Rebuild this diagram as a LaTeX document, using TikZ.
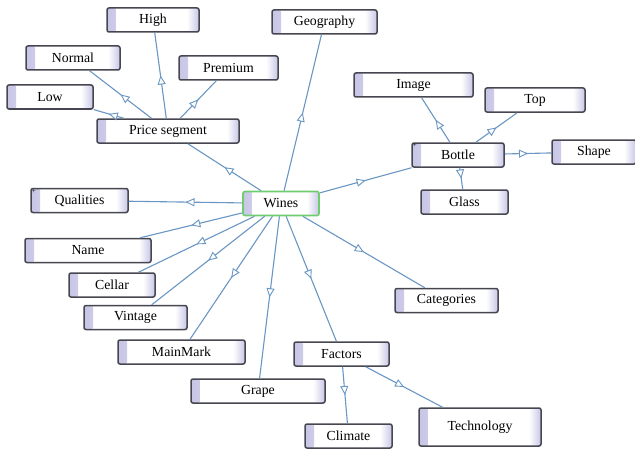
\documentclass[tikz,border=0pt]{standalone}
\usepackage{fontspec}
\setmainfont{Liberation Serif}
\usetikzlibrary{arrows.meta,decorations.markings}
\definecolor{lav}{RGB}{200,198,230}
\definecolor{edgeblue}{RGB}{105,150,195}
\definecolor{bordergray}{RGB}{70,70,80}
\definecolor{wgreen}{RGB}{110,205,110}
\tikzset{
  basebox/.style={line width=1.5pt, rounded corners=2pt, fill=white, minimum height=24pt, inner sep=0pt,
    font=\fontsize{13.8}{16}\selectfont,
    path picture={
      \fill[left color=lav,right color=white] (path picture bounding box.south west) rectangle ([xshift=9pt]path picture bounding box.north west);
      \fill[left color=white,right color=lav] ([xshift=-12pt]path picture bounding box.south east) rectangle (path picture bounding box.north east);}},
  box/.style={basebox, draw=bordergray},
  wbox/.style={basebox, draw=wgreen, line width=1.6pt},
  plus/.style={label={[font=\fontsize{7}{7}\selectfont, anchor=north west, inner sep=1.5pt]north west:+}},
  link/.style={draw=edgeblue, line width=1.1pt, postaction={decorate},
    decoration={markings, mark=at position 0.5 with {\arrow[edgeblue, line width=0.9pt]{Triangle[length=9pt,width=8pt,fill=white]}}}}
}
\begin{document}
\begin{tikzpicture}[x=1pt,y=-1pt]
\useasboundingbox (0,0) rectangle (635,452);
\node[box, minimum width=92] (high) at (153,20) {High};
\node[box, minimum width=105] (geo) at (324.5,22) {Geography};
\node[box, minimum width=94] (normal) at (73,58) {Normal};
\node[box, minimum width=99] (premium) at (228.5,68) {Premium};
\node[box, minimum width=86] (low) at (50,97) {Low};
\node[box, minimum width=142] (price) at (168,131) {Price segment};
\node[box, minimum width=119] (image) at (413.5,85) {Image};
\node[box, minimum width=100] (top) at (535,100) {Top};
\node[box, plus, minimum width=92] (bottle) at (458,155) {Bottle};
\node[box, minimum width=84] (shape) at (594,152) {Shape};
\node[box, minimum width=87] (glass) at (464.5,202) {Glass};
\node[box, plus, minimum width=97] (qual) at (79.5,200.5) {Qualities};
\node[wbox, minimum width=76] (wines) at (281,203.5) {Wines};
\node[box, minimum width=126] (name) at (88,250.5) {Name};
\node[box, minimum width=86] (cellar) at (112,285) {Cellar};
\node[box, minimum width=103] (vintage) at (135.5,317.5) {Vintage};
\node[box, minimum width=127] (mainmark) at (181.5,352) {MainMark};
\node[box, minimum width=103] (cat) at (446.5,300.5) {Categories};
\node[box, minimum width=95] (factors) at (341.5,354) {Factors};
\node[box, minimum width=134] (grape) at (258,391) {Grape};
\node[box, minimum width=87] (climate) at (348.5,436) {Climate};
\node[box, minimum width=122, minimum height=38] (tech) at (480,427) {Technology};

\draw[link] (wines) -- (price);
\draw[link] (wines) -- (geo);
\draw[link] (wines) -- (bottle);
\draw[link] (wines) -- (qual);
\draw[link] (wines) -- (name);
\draw[link] (wines) -- (cellar);
\draw[link] (wines) -- (vintage);
\draw[link] (wines) -- (mainmark);
\draw[link] (wines) -- (grape);
\draw[link] (wines) -- (factors);
\draw[link] (wines) -- (cat);
\draw[link] (price) -- (low);
\draw[link] (price) -- (normal);
\draw[link] (price) -- (high);
\draw[link] (price) -- (premium);
\draw[link] (bottle) -- (image);
\draw[link] (bottle) -- (top);
\draw[link] (bottle) -- (shape);
\draw[link] (bottle) -- (glass);
\draw[link] (factors) -- (climate);
\draw[link] (factors) -- (tech);
\end{tikzpicture}
\end{document}
